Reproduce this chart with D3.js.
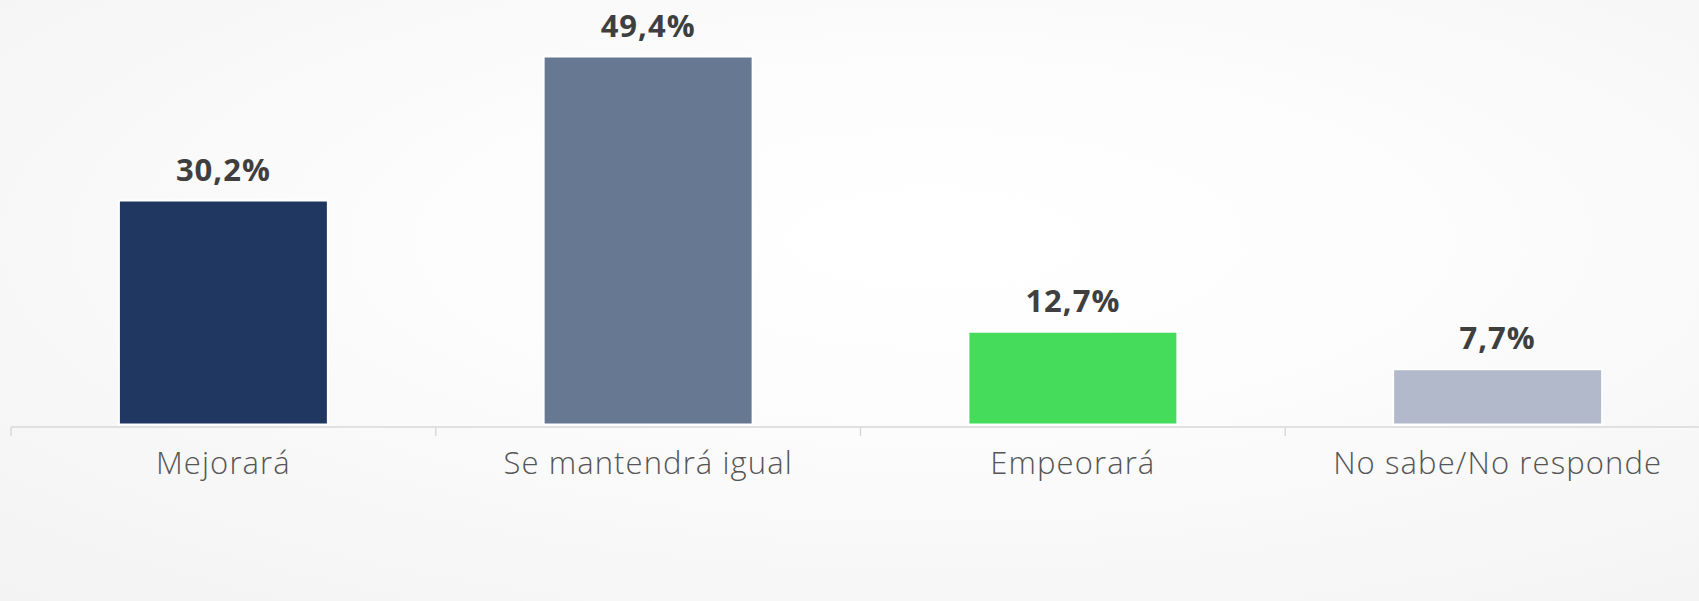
<!DOCTYPE html>
<html>
<head>
<meta charset="utf-8">
<script src="https://cdn.jsdelivr.net/npm/d3@7"></script>
<style>
  html, body { margin: 0; padding: 0; }
  body { width: 1699px; height: 601px; overflow: hidden; }
  svg { display: block; font-family: "Open Sans", "Noto Sans", sans-serif; }
</style>
</head>
<body>
<svg id="chart" width="1699" height="601"></svg>
<script>
// Data
const categories = ["Mejorará", "Se mantendrá igual", "Empeorará", "No sabe/No responde"]
const values = [30.2, 49.4, 12.7, 7.7]
const barColors = ["#203762", "#677893", "#45dc5c", "#b2b9ca"]

const W = 1699, H = 601
const svg = d3.select('#chart')

// background, soft radial light
const defs = svg.append('defs')
const grad = defs.append('radialGradient')
  .attr('id', 'bg')
  .attr('cx', '0.55').attr('cy', '0.4').attr('r', '0.85')
grad.append('stop').attr('offset', '0%').attr('stop-color', '#ffffff')
grad.append('stop').attr('offset', '30%').attr('stop-color', '#fdfdfd')
grad.append('stop').attr('offset', '100%').attr('stop-color', '#f2f2f2')
svg.append('rect').attr('width', W).attr('height', H).attr('fill', 'url(#bg)')

// scales - plot runs past the right edge like the original
const x = d3.scaleBand()
  .domain(categories)
  .range([11, 1710])
  .paddingInner(0.508)
  .paddingOuter(0.254)

const y = d3.scaleLinear()
  .domain([0, 50])
  .range([427, 52])

const data = categories.map((c, i) => ({ cat: c, val: values[i], color: barColors[i] }))

// bars with a white border
svg.append('g')
  .selectAll('rect')
  .data(data)
  .enter()
  .append('rect')
  .attr('x', d => x(d.cat))
  .attr('y', d => y(d.val))
  .attr('width', x.bandwidth())
  .attr('height', d => y(0) - y(d.val) - 2.5)
  .attr('fill', d => d.color)
  .attr('stroke', '#ffffff')
  .attr('stroke-width', 2)

// x axis: line, ticks on band edges, labels
const axisY = y(0)
const xAxis = d3.axisBottom(x).tickSize(0).tickPadding(0)
const ax = svg.append('g').attr('transform', `translate(0,${axisY})`).call(xAxis)
ax.select('.domain').remove()
ax.selectAll('text')
  .attr('y', 47)
  .attr('dy', null)
  .attr('font-family', '"Open Sans", sans-serif')
  .attr('font-weight', 300)
  .attr('font-size', 31)
  .attr('letter-spacing', 1.1)
  .attr('fill', '#555555')

ax.append('line')
  .attr('x1', 11).attr('x2', W)
  .attr('y1', 0).attr('y2', 0)
  .attr('stroke', '#d9d9d9')
  .attr('stroke-width', 1.5)

const edges = categories.map(c => x(c) - x.step() * x.paddingOuter()).concat([x.range()[1]])
ax.selectAll('line.edge')
  .data(edges)
  .enter()
  .append('line')
  .attr('class', 'edge')
  .attr('x1', d => d).attr('x2', d => d)
  .attr('y1', 0).attr('y2', 9)
  .attr('stroke', '#d9d9d9')
  .attr('stroke-width', 1.5)

// value labels
svg.append('g')
  .selectAll('text')
  .data(data)
  .enter()
  .append('text')
  .attr('x', d => x(d.cat) + x.bandwidth() / 2)
  .attr('y', d => y(d.val) - 20)
  .attr('text-anchor', 'middle')
  .attr('font-weight', 700)
  .attr('font-size', 31)
  .attr('letter-spacing', 1)
  .attr('fill', '#3f3f3f')
  .text(d => d.val.toFixed(1).replace('.', ',') + '%')
</script>
</body>
</html>
